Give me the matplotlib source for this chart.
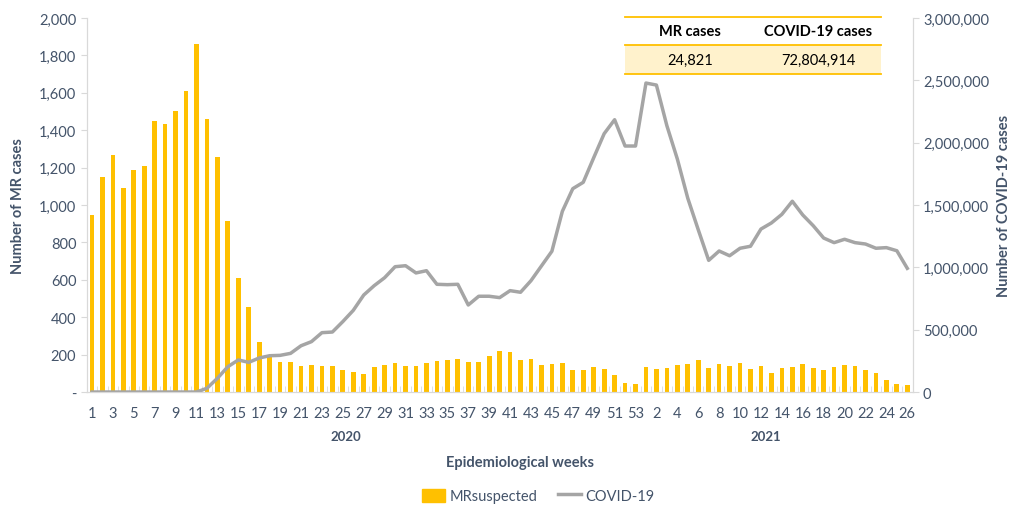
import numpy as np
import matplotlib.pyplot as plt
from matplotlib.ticker import FuncFormatter, FixedLocator
from matplotlib.patches import Rectangle
from matplotlib.lines import Line2D

plt.rcParams["font.family"] = ["Lato", "DejaVu Sans"]

# ----------------------------------------------------
# Data
# ----------------------------------------------------

weeks_2020 = list(range(1, 54))
weeks_2021 = list(range(1, 27))
week_labels = [str(w) for w in weeks_2020 + weeks_2021]

mr_suspected = [
    945, 1150, 1265, 1090, 1185, 1210, 1450, 1435, 1505, 1610,
    1860, 1460, 1255, 915, 610, 455, 265, 190, 162, 160,
    141, 146, 141, 141, 118, 105, 96, 135, 143, 153,
    139, 139, 153, 166, 173, 178, 160, 160, 191, 221,
    216, 171, 176, 144, 148, 155, 119, 119, 135, 123,
    93, 50, 43,
    134, 125, 130, 146, 151, 171, 128, 148, 139, 155,
    123, 139, 102, 130, 135, 151, 130, 118, 132, 144,
    139, 118, 102, 64, 44, 39,
]

covid19 = [
    0, 0, 0, 0, 0, 0, 0, 0, 0, 0,
    0, 30000, 110000, 203000, 257000, 238000, 273000, 291000, 294000, 310000,
    371000, 404000, 476000, 481000, 565000, 655000, 778000, 853000, 917000, 1005000,
    1013000, 955000, 973000, 864000, 861000, 864000, 698000, 768000, 768000, 757000,
    813000, 800000, 893000, 1011000, 1129000, 1449000, 1631000, 1682000, 1879000, 2072000,
    2184000, 1973000, 1973000,
    2478000, 2462000, 2136000, 1869000, 1554000, 1302000, 1056000, 1131000, 1093000, 1153000,
    1169000, 1307000, 1356000, 1425000, 1530000, 1420000, 1334000, 1235000, 1198000, 1225000,
    1198000, 1187000, 1153000, 1158000, 1133000, 992000,
]

table_header = ["MR cases", "COVID-19 cases"]
table_values = ["24,821", "72,804,914"]

BAR_COLOR = "#FFC000"
LINE_COLOR = "#A5A5A5"
TEXT_COLOR = "#44546A"
AXIS_COLOR = "#D9D9D9"

x = np.arange(len(mr_suspected))

# ----------------------------------------------------
# Figure
# ----------------------------------------------------

fig = plt.figure(figsize=(10.12, 5.06), dpi=100)
ax = fig.add_axes([0.0857, 0.2233, 0.8160, 0.7392])
ax2 = ax.twinx()

ax.bar(x, mr_suspected, width=0.45, color=BAR_COLOR, zorder=2)
ax2.plot(x, covid19, color=LINE_COLOR, linewidth=2.5, solid_joinstyle="round")

ax.set_xlim(-0.5, len(x) - 0.5)
ax.set_ylim(0, 2000)
ax2.set_ylim(0, 3000000)

ax.set_yticks(np.arange(0, 2001, 200))
ax.yaxis.set_major_formatter(
    FuncFormatter(lambda v, p: "-" if v == 0 else f"{int(v):,}")
)
ax2.set_yticks(np.arange(0, 3000001, 500000))
ax2.yaxis.set_major_formatter(FuncFormatter(lambda v, p: f"{int(v):,}"))

ax.set_xticks(x[::2])
ax.set_xticklabels(week_labels[::2])
ax.xaxis.set_minor_locator(FixedLocator(np.arange(-0.5, len(x), 1)))

for a in (ax, ax2):
    a.spines["top"].set_visible(False)
    a.spines["left"].set_color(AXIS_COLOR)
    a.spines["right"].set_color(AXIS_COLOR)
    a.spines["bottom"].set_color(AXIS_COLOR)

ax.tick_params(axis="y", colors=AXIS_COLOR, labelcolor=TEXT_COLOR,
               labelsize=10.5, length=4)
ax2.tick_params(axis="y", colors=AXIS_COLOR, labelcolor=TEXT_COLOR,
                labelsize=10.5, length=4)
ax.tick_params(axis="x", which="major", length=0, labelsize=10.5,
               labelcolor=TEXT_COLOR, pad=10)
ax.tick_params(axis="x", which="minor", direction="in", length=4,
               color=AXIS_COLOR)

ax.set_ylabel("Number of MR cases", fontsize=10.5, fontweight="bold",
              color=TEXT_COLOR, labelpad=10)
ax2.set_ylabel("Number of COVID-19 cases", fontsize=10.5, fontweight="bold",
               color=TEXT_COLOR, labelpad=6)

# ----------------------------------------------------
# Year labels & axis title
# ----------------------------------------------------

ax.text(0.314, -0.118, "2020", transform=ax.transAxes, ha="center",
        va="center", fontsize=9.5, fontweight="bold", color=TEXT_COLOR)
ax.text(0.822, -0.118, "2021", transform=ax.transAxes, ha="center",
        va="center", fontsize=9.5, fontweight="bold", color=TEXT_COLOR)
fig.text(0.514, 0.085, "Epidemiological weeks", ha="center", va="center",
         fontsize=10.5, fontweight="bold", color=TEXT_COLOR)

# ----------------------------------------------------
# Summary table
# ----------------------------------------------------

tx0, tx1 = 625 / 1012, 881 / 1012
ty_top, ty_mid, ty_bot = 1 - 18 / 506, 1 - 46 / 506, 1 - 75 / 506
fig.patches.append(Rectangle((tx0, ty_bot), tx1 - tx0, ty_mid - ty_bot,
                             transform=fig.transFigure, facecolor="#FFF2CC",
                             edgecolor="none", zorder=5))
for yy in (ty_top, ty_mid, ty_bot):
    fig.lines.append(Line2D([tx0, tx1], [yy, yy], transform=fig.transFigure,
                            color=BAR_COLOR, linewidth=1.3, zorder=6))
col_x = [690 / 1012, 818 / 1012]
for cx, head, val in zip(col_x, table_header, table_values):
    fig.text(cx, (ty_top + ty_mid) / 2, head, ha="center", va="center",
             fontsize=10.5, fontweight="bold", color="black", zorder=7)
    fig.text(cx, (ty_mid + ty_bot) / 2, val, ha="center", va="center",
             fontsize=10.5, color="black", zorder=7)

# ----------------------------------------------------
# Legend
# ----------------------------------------------------

handles = [
    Rectangle((0, 0), 1, 1, color=BAR_COLOR),
    Line2D([0], [0], color=LINE_COLOR, linewidth=2.5),
]
leg = fig.legend(handles, ["MRsuspected", "COVID-19"], loc="center",
                 bbox_to_anchor=(0.532, 0.018), ncol=2, frameon=False,
                 fontsize=10.5, handlelength=1.6, handleheight=1.0,
                 columnspacing=1.4, handletextpad=0.3)
for t in leg.get_texts():
    t.set_color(TEXT_COLOR)

fig.savefig("out.png", dpi=100)
